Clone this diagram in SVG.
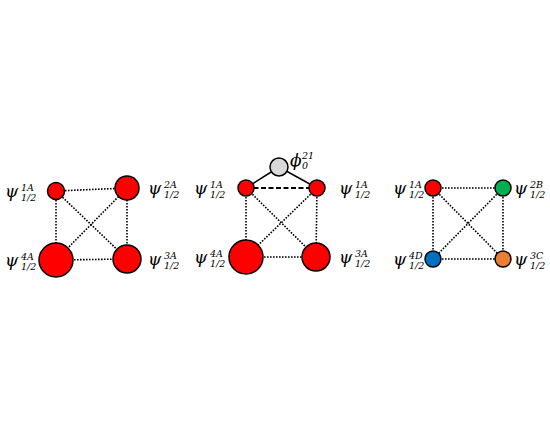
<svg xmlns="http://www.w3.org/2000/svg" width="550" height="425" viewBox="0 0 550 425">
<style>
.n{stroke:#000;stroke-width:1.5}
.red{fill:#FF0000}.grn{fill:#00B050}.blu{fill:#0070C0}.org{fill:#ED7D31}.gry{fill:#D9D9D9}
.dot{stroke:#000;stroke-width:1.6;stroke-dasharray:1.6 1.4;fill:none}
.dash{stroke:#000;stroke-width:2;stroke-dasharray:5 2.5;fill:none}
.sol{stroke:#000;stroke-width:1.5;fill:none}
.p{font-family:"DejaVu Serif","Liberation Serif",serif;font-style:italic;font-size:17px;fill:#000}
.s{font-family:"DejaVu Serif","Liberation Serif",serif;font-style:italic;font-size:9.5px;fill:#000}
</style>
<rect width="550" height="425" fill="#fff"/>
<g id="connectors">
<line class="dot" x1="56" y1="191" x2="127" y2="188"/>
<line class="dot" x1="56" y1="191" x2="56" y2="260"/>
<line class="dot" x1="127" y1="188" x2="127" y2="259"/>
<line class="dot" x1="56" y1="260" x2="127" y2="259"/>
<line class="dot" x1="56" y1="191" x2="127" y2="259"/>
<line class="dot" x1="127" y1="188" x2="56" y2="260"/>
<line class="sol" x1="279" y1="167" x2="246" y2="188"/>
<line class="sol" x1="279" y1="167" x2="317" y2="188"/>
<line class="dash" x1="246" y1="188" x2="317" y2="188"/>
<line class="dot" x1="246" y1="188" x2="246" y2="257"/>
<line class="dot" x1="317" y1="188" x2="316" y2="257"/>
<line class="dot" x1="246" y1="257" x2="316" y2="257"/>
<line class="dot" x1="246" y1="188" x2="316" y2="257"/>
<line class="dot" x1="317" y1="188" x2="246" y2="257"/>
<line class="dot" x1="433" y1="188" x2="503" y2="188"/>
<line class="dot" x1="433" y1="188" x2="433" y2="259"/>
<line class="dot" x1="503" y1="188" x2="503" y2="259"/>
<line class="dot" x1="433" y1="259" x2="503" y2="259"/>
<line class="dot" x1="433" y1="188" x2="503" y2="259"/>
<line class="dot" x1="503" y1="188" x2="433" y2="259"/>
</g>
<g id="p1-1A"><circle class="n red" cx="56" cy="191" r="8.5"/><text class="p" x="5" y="197">ψ</text><text class="s" x="21" y="191">1A</text><text class="s" x="21" y="201">1/2</text></g>
<g id="p1-2A"><circle class="n red" cx="127" cy="188" r="12"/><text class="p" x="148" y="194">ψ</text><text class="s" x="164" y="188">2A</text><text class="s" x="164" y="198">1/2</text></g>
<g id="p1-4A"><circle class="n red" cx="56" cy="260" r="17"/><text class="p" x="5" y="266">ψ</text><text class="s" x="21" y="260">4A</text><text class="s" x="21" y="270">1/2</text></g>
<g id="p1-3A"><circle class="n red" cx="127" cy="259" r="14"/><text class="p" x="148" y="265">ψ</text><text class="s" x="164" y="259">3A</text><text class="s" x="164" y="269">1/2</text></g>
<g id="p2-phi"><circle class="n gry" cx="279" cy="167" r="9"/><text class="p" x="290" y="166">ϕ</text><text class="s" x="302" y="159">21</text><text class="s" x="302" y="169">0</text></g>
<g id="p2-1A-left"><circle class="n red" cx="246" cy="188" r="8"/><text class="p" x="194" y="194">ψ</text><text class="s" x="210" y="188">1A</text><text class="s" x="210" y="198">1/2</text></g>
<g id="p2-1A-right"><circle class="n red" cx="317" cy="188" r="8"/><text class="p" x="339" y="194">ψ</text><text class="s" x="355" y="188">1A</text><text class="s" x="355" y="198">1/2</text></g>
<g id="p2-4A"><circle class="n red" cx="246" cy="257" r="17"/><text class="p" x="194" y="263">ψ</text><text class="s" x="210" y="257">4A</text><text class="s" x="210" y="267">1/2</text></g>
<g id="p2-3A"><circle class="n red" cx="316" cy="257" r="14"/><text class="p" x="339" y="263">ψ</text><text class="s" x="355" y="257">3A</text><text class="s" x="355" y="267">1/2</text></g>
<g id="p3-1A"><circle class="n red" cx="433" cy="188" r="8"/><text class="p" x="393" y="194">ψ</text><text class="s" x="409" y="188">1A</text><text class="s" x="409" y="198">1/2</text></g>
<g id="p3-2B"><circle class="n grn" cx="503" cy="188" r="8"/><text class="p" x="514" y="194">ψ</text><text class="s" x="530" y="188">2B</text><text class="s" x="530" y="198">1/2</text></g>
<g id="p3-4D"><circle class="n blu" cx="433" cy="259" r="8"/><text class="p" x="393" y="265">ψ</text><text class="s" x="409" y="259">4D</text><text class="s" x="409" y="269">1/2</text></g>
<g id="p3-3C"><circle class="n org" cx="503" cy="259" r="8"/><text class="p" x="514" y="265">ψ</text><text class="s" x="530" y="259">3C</text><text class="s" x="530" y="269">1/2</text></g>
</svg>
